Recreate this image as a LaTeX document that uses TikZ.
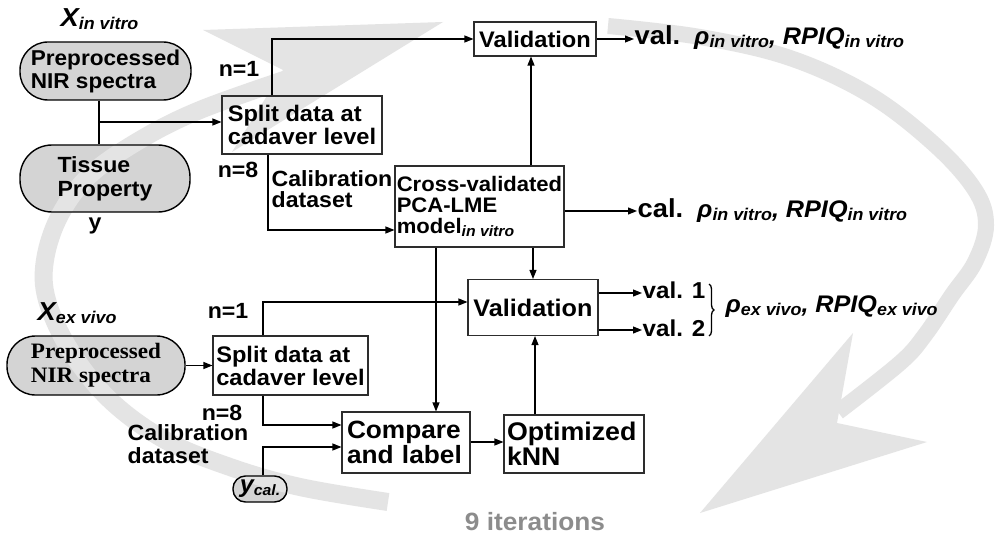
\documentclass[tikz,border=0pt]{standalone}
\usepackage{fontspec}
\setmainfont{Liberation Sans}[FakeStretch=1.05]
\newfontfamily\serifbf{Liberation Serif}[FakeStretch=1.05]
\usetikzlibrary{arrows.meta,decorations.pathreplacing}
\definecolor{bandgray}{RGB}{228,228,228}
\definecolor{nodegray}{RGB}{212,212,212}
\definecolor{itergray}{RGB}{140,140,140}
\definecolor{boxline}{RGB}{45,45,45}
\newcommand\fsz[2]{\fontsize{#1pt}{#2pt}\selectfont}
\newcommand\lsub[2][17]{\raisebox{-3pt}{\fsz{#1}{#1}\itshape #2}}
\pgfdeclarelayer{fills}
\pgfdeclarelayer{bands}
\pgfsetlayers{fills,bands,main}
% grey stadium backing + outlined node on top
\newcommand\pill[6]{%
  \begin{pgfonlayer}{fills}
    \node[pillbg, minimum width=#3, minimum height=#4, rounded corners=#5] at (#2) {};
  \end{pgfonlayer}
  \node[pill, minimum width=#3, minimum height=#4, rounded corners=#5, #6] (#1) at (#2)}
\begin{document}
\begin{tikzpicture}[x=1pt,y=-1pt,
  box/.style={draw=boxline, line width=1.1pt, inner sep=0pt, align=left},
  pill/.style={draw=black, line width=1.4pt, inner sep=0pt, align=left},
  pillbg/.style={fill=nodegray, draw=none, inner sep=0pt},
  wire/.style={line width=1.1pt},
  conn/.style={wire, -{Triangle[length=9pt,width=7pt]}},
  grayband/.style={draw=bandgray, line width=#1, line cap=butt},
  lbl/.style={inner sep=0.5pt, font=\bfseries\fsz{22}{23}},
  outtxt/.style={inner sep=0.5pt, anchor=base west, font=\bfseries}
]
\useasboundingbox (0,0) rectangle (1000,540);
\begin{pgfonlayer}{fills}
  \fill[white] (0,0) rectangle (1000,540);
\end{pgfonlayer}

% ---- iteration arrows in the background
\begin{pgfonlayer}{bands}
  \draw[grayband=18pt] plot[smooth, tension=0.6] coordinates
    {(388,502) (300,487) (230,467) (165,440) (110,400) (70,350) (47,300)
     (45,260) (60,215) (90,175) (140,140) (200,110) (290,78)};
  \fill[bandgray] (203,30) -- (443,22) -- (232,152) -- (283,70) -- cycle;
  \draw[grayband=16pt] plot[smooth, tension=0.6] coordinates
    {(608,26) (700,37) (790,58) (870,95) (935,145) (975,190) (986,225)
     (975,262) (952,295) (925,335) (900,363) (838,412)};
  \fill[bandgray] (853,333) -- (700,513) -- (927,442) -- (837,423) -- cycle;
\end{pgfonlayer}

% ---- in vitro branch
\node[outtxt] (xiv) at (60,27) {\fsz{26}{26}\itshape X\lsub{in vitro}};
\pill{pre1}{105.5,71}{171pt}{58pt}{28pt}{font=\bfseries\fsz{21.5}{23}} {Preprocessed\\NIR spectra};
\pill{tis}{105,178.5}{170pt}{67pt}{32pt}{font=\bfseries\fsz{22}{24}} {Tissue\\Property};
\node[lbl, font=\bfseries\fsz{22}{22}] (ylab) at (95,226) {y};

\node[box, minimum width=160pt, minimum height=58pt,
      font=\bfseries\fsz{22.5}{23}] (split1) at (302,125) {Split data at\\cadaver level};
\node[box, align=center, minimum width=122pt, minimum height=34pt,
      font=\bfseries\fsz{22.5}{23}] (val1) at (535,39) {Validation};
\node[box, minimum width=169pt, minimum height=81pt,
      font=\bfseries\fsz{21}{21}] (cross) at (479.5,206.5)
      {Cross-validated\\PCA-LME\\model\lsub[15]{in vitro}};

\node[lbl] (n1a) at (239,69) {n=1};
\node[lbl] (n8a) at (238,170) {n=8};
\node[lbl, anchor=north west, align=left, font=\bfseries\fsz{22}{21}] (cala) at (271,170) {Calibration\\dataset};

\node[outtxt] (v1t) at (634,45) {\fsz{26}{26}val.\hspace{14pt}\fsz{24}{24}\itshape ρ\lsub{in vitro}, RPIQ\lsub{in vitro}};
\node[outtxt] (calt) at (637,217) {\fsz{26}{26}cal.\hspace{14pt}\fsz{24}{24}\itshape ρ\lsub{in vitro}, RPIQ\lsub{in vitro}};

% ---- ex vivo branch
\node[outtxt] (xev) at (37,320) {\fsz{26}{26}\itshape X\lsub{ex vivo}};
\pill{pre2}{96,365.5}{178pt}{59pt}{28.5pt}{font=\serifbf\bfseries\fsz{22}{24}} {Preprocessed\\NIR spectra};
\node[box, minimum width=155pt, minimum height=59pt,
      font=\bfseries\fsz{22.5}{23}] (split2) at (290.5,365.5) {Split data at\\cadaver level};
\node[box, align=center, minimum width=130pt, minimum height=56pt,
      font=\bfseries\fsz{24}{25}] (val2) at (533,307.5) {Validation};
\node[box, text width=118pt, inner xsep=5pt, minimum height=61pt,
      font=\bfseries\fsz{25}{25}] (compare) at (406,442.5) {Compare\\and label};
\node[box, text width=134pt, inner xsep=3pt, minimum height=58pt,
      font=\bfseries\fsz{25.5}{25}] (optim) at (574,444) {Optimized\\kNN};
\pill{ycal}{260,489}{54pt}{26pt}{12.5pt}{font=\bfseries} {\fsz{24}{24}\itshape y\lsub[15]{cal.}};

\node[lbl] (n1b) at (228,311) {n=1};
\node[lbl] (n8b) at (222,413) {n=8};
\node[lbl, anchor=north west, align=left, font=\bfseries\fsz{22}{23}] (calb) at (127,424) {Calibration\\dataset};

\node[outtxt] (v21) at (642,298) {\fsz{23}{23}val. 1};
\node[outtxt] (v22) at (642,336) {\fsz{23}{23}val. 2};
\node[outtxt] (rex) at (725,312) {\fsz{24}{24}\itshape ρ\lsub{ex vivo}, RPIQ\lsub{ex vivo}};

\node[inner sep=0pt, text=itergray, font=\bfseries\fsz{25}{25}] (iter) at (535,522) {9 iterations};

% ---- helper positions for the elbow connectors
\coordinate (j1) at (99,122);
\coordinate (xa) at (272,39);
\coordinate (xb) at (268,230);
\coordinate (xc) at (531,0);
\coordinate (yc) at (0,211);
\coordinate (xd) at (436,0);
\coordinate (xf) at (263,302);
\coordinate (xg) at (263,425);
\coordinate (xh) at (263,447);
\coordinate (yi) at (0,442);
\coordinate (xj) at (535,0);
\coordinate (y1) at (0,293);
\coordinate (y2) at (0,330);

% ---- connectors, in vitro
\draw[wire] (pre1.south -| j1) -- (tis.north -| j1);
\draw[conn] (j1) -- (j1 -| split1.west);
\draw[conn] (split1.north -| xa) |- (val1.west);
\draw[conn] (split1.south -| xb) |- (xb -| cross.west);
\draw[conn] (cross.north -| xc) -- (val1.south -| xc);
\draw[conn] (cross.east |- yc) -- (calt.west |- yc);
\draw[conn] (val1.east) -- (v1t.west |- val1.east);

% ---- connectors, ex vivo
\draw[conn] (cross.south -| xd) -- (compare.north -| xd);
\draw[conn] (cross.south -| val2.north) -- (val2.north);
\draw[conn] (pre2.east) -- (split2.west);
\draw[conn] (split2.north -| xf) |- (xf -| val2.west);
\draw[conn] (split2.south -| xg) |- (xg -| compare.west);
\draw[conn] (ycal.north -| xh) |- (xh -| compare.west);
\draw[conn] (compare.east |- yi) -- (optim.west |- yi);
\draw[conn] (optim.north -| xj) -- (val2.south -| xj);
\draw[conn] (val2.east |- y1) -- (v21.west |- y1);
\draw[conn] (val2.east |- y2) -- (v22.west |- y2);
\coordinate (bt) at (709,284);
\coordinate (bb) at (709,336);
\draw[line width=1.3pt, decorate, decoration={brace, amplitude=5pt}] (bt) -- (bb);
\end{tikzpicture}
\end{document}
